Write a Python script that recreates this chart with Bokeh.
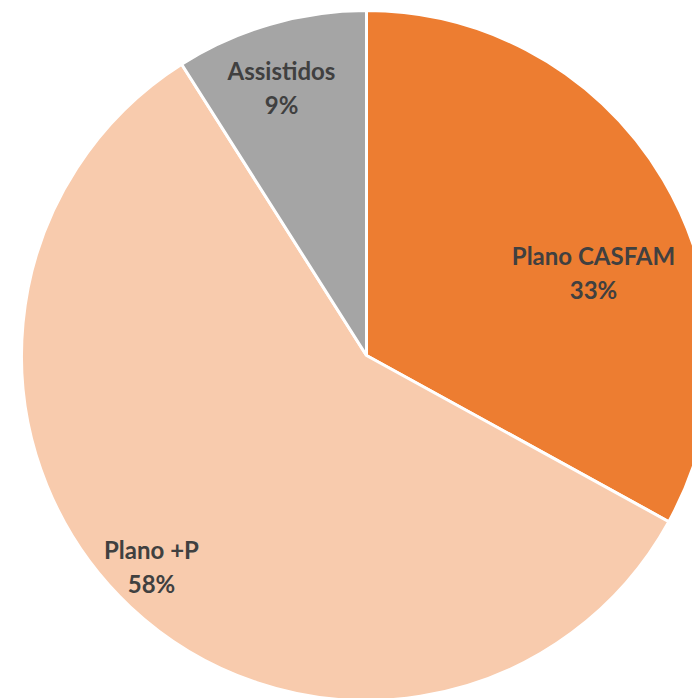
from math import pi
from bokeh.plotting import figure
from bokeh.models import ColumnDataSource, Range1d
from bokeh.core.properties import value
from bokeh.embed import file_html
from bokeh.resources import INLINE

categories = ["Plano CASFAM", "Plano +P", "Assistidos"]
shares = [33, 58, 9]
colors = ["#ED7D31", "#F8CBAD", "#A5A5A5"]
pct_labels = ["33%", "58%", "9%"]

# layout (pixel-like data units)
W, H = 692, 698
cx, cy, R = 366, H - 355, 345
label_x = [593, 151, 281]
label_y = [H - 272, H - 566, H - 87]

# start at 12 o'clock, go clockwise
starts, ends = [], []
acc = 0.0
total = float(sum(shares))
for s in shares:
    a0 = pi / 2 - 2 * pi * acc / total
    acc += s
    a1 = pi / 2 - 2 * pi * acc / total
    starts.append(a1)
    ends.append(a0)

src = ColumnDataSource(dict(cat=categories, start=starts, end=ends, color=colors,
                            x=[cx] * 3, y=[cy] * 3))
lab = ColumnDataSource(dict(x=label_x, y=label_y,
                            text=[c + "\n" + p for c, p in zip(categories, pct_labels)]))

p = figure(width=W, height=H, output_backend="svg", toolbar_location=None,
           x_range=Range1d(0, W), y_range=Range1d(0, H), min_border=0)
p.axis.visible = False
p.grid.visible = False
p.outline_line_color = None
p.background_fill_color = "white"

p.wedge(x="x", y="y", radius=R, start_angle="start", end_angle="end",
        fill_color="color", line_color="white", line_width=3, source=src)

p.text(x="x", y="y", text="text", source=lab, text_align="center",
       text_baseline="middle", text_font=value("Lato"), text_font_style="bold",
       text_font_size="24px", text_color="#404040", text_line_height=1.17)

open("out.html", "w").write(file_html(p, INLINE))
